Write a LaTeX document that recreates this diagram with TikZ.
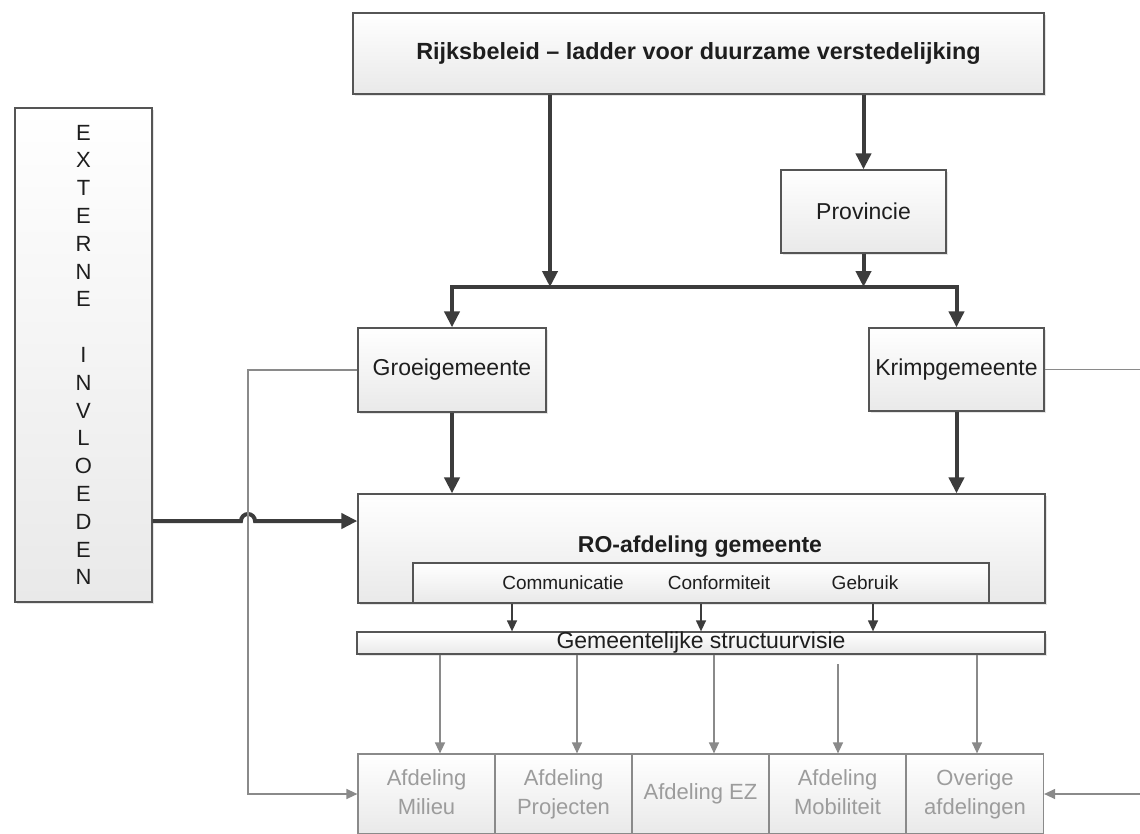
\documentclass[tikz,border=0pt]{standalone}
\usepackage{fontspec}
\setmainfont{Liberation Sans}
\usetikzlibrary{arrows.meta,shadows,calc}

\definecolor{edge}{HTML}{555555}
\definecolor{ink}{HTML}{1E1E1E}
\definecolor{arrowdark}{HTML}{3C3C3C}
\definecolor{soft}{HTML}{8A8A8A}
\definecolor{softtext}{HTML}{9C9C9C}
\definecolor{shadelow}{HTML}{E9E9E9}

\begin{document}
\begin{tikzpicture}[x=1pt,y=-1pt,
  box/.style={draw=edge, line width=1.3pt, top color=white, bottom color=shadelow,
    inner sep=0pt, text=ink, font=\fontsize{23}{27}\selectfont,
    drop shadow={shadow xshift=1.5pt, shadow yshift=-1.5pt, opacity=0.2}},
  plainbox/.style={draw=edge, line width=1.3pt, top color=white, bottom color=shadelow, inner sep=0pt},
  lowbox/.style={draw=soft, line width=1.2pt, top color=white, bottom color=shadelow,
    inner sep=0pt, text=softtext, align=center, minimum width=137, minimum height=80,
    font=\fontsize{22}{29}\selectfont},
  label/.style={inner sep=0pt, text=ink, font=\fontsize{23}{27}\selectfont},
  boldlabel/.style={inner sep=0pt, text=ink, font=\bfseries\fontsize{23}{27}\selectfont},
  smalllabel/.style={inner sep=0pt, text=ink, font=\fontsize{19}{23}\selectfont},
  bigarrow/.style={draw=arrowdark, line width=4pt, -{Triangle[length=16pt,width=15pt]}},
  thinarrow/.style={draw=arrowdark, line width=1.3pt, -{Triangle[length=11pt,width=10pt]}},
  softarrow/.style={draw=soft, line width=1.3pt, -{Triangle[length=11pt,width=10pt]}},
  softline/.style={draw=soft, line width=1.2pt}
]
\useasboundingbox (0,0) rectangle (1140,833);
\fill[white] (0,0) rectangle (1140,833);

% top level: national policy and province
\node[box, minimum width=691, minimum height=81, font=\bfseries\fontsize{23.4}{27}\selectfont]
  (rijk) at (698.5,53.5) {Rijksbeleid – ladder voor duurzame verstedelijking};
\node[box, minimum width=165, minimum height=83] (prov) at (863.5,211.5) {Provincie};

% municipalities
\node[box, minimum width=188, minimum height=84] (groei) at (452,370) {Groeigemeente};
\node[box, minimum width=175, minimum height=83] (krimp) at (956.5,369.5) {Krimpgemeente};

% external influences column
\node[box, minimum width=137, minimum height=494] (ext) at (83.5,355) {};
\node[inner sep=0pt, text=ink, align=center, font=\fontsize{22}{27.8}\selectfont] (extlabel) at (ext.center)
  {E\\X\\T\\E\\R\\N\\E\\\mbox{}\\I\\N\\V\\L\\O\\E\\D\\E\\N};

% spatial planning department
\node[box, minimum width=687, minimum height=109] (ro) at (701.5,548.5) {};
\node[boldlabel] (rolabel) at (700,547) {RO-afdeling gemeente};
\node[plainbox, minimum width=576, minimum height=40] (sub) at (701,583) {};
\node[smalllabel] (comm) at (563,583) {Communicatie};
\node[smalllabel] (conf) at (719,583) {Conformiteit};
\node[smalllabel] (gebr) at (865,583) {Gebruik};

% structure vision bar
\node[box, minimum width=688, minimum height=22] (gsv) at (701,643) {};
\node[label] (gsvlabel) at (gsv.center) {Gemeentelijke structuurvisie};

% departments row
\node[lowbox] (afd1) at (426.5,794) {\strut Afdeling\\\strut Milieu};
\node[lowbox] (afd2) at (563.5,794) {\strut Afdeling\\\strut Projecten};
\node[lowbox] (afd3) at (700.5,794) {\strut Afdeling EZ};
\node[lowbox] (afd4) at (837.5,794) {\strut Afdeling\\\strut Mobiliteit};
\node[lowbox] (afd5) at (975,794) {\strut Overige\\\strut afdelingen};

% helper coordinates
\coordinate (bus) at (0,287);
\coordinate (ra) at (550,0);
\coordinate (jy) at (0,521);
\coordinate (vline) at (248,600);
\coordinate (redge) at (1141,0);
\coordinate (k1) at (512,0);
\coordinate (k2) at (701,0);
\coordinate (k3) at (873,0);
\coordinate (c1) at (440,0);
\coordinate (c2) at (577,0);
\coordinate (c3) at (714,0);
\coordinate (c4) at (838,664);
\coordinate (c5) at (977,0);

% heavy flow
\draw[bigarrow] (rijk.south -| ra) -- (ra |- bus);
\draw[bigarrow] (rijk.south -| prov.north) -- (prov.north);
\draw[bigarrow] (prov.south) -- (prov.south |- bus);
\draw[bigarrow] (prov.south |- bus) -| (groei.north);
\draw[bigarrow] (prov.south |- bus) -| (krimp.north);
\draw[bigarrow] (groei.south) -- (groei.south |- ro.north);
\draw[bigarrow] (krimp.south) -- (krimp.south |- ro.north);
\draw[bigarrow] (ext.east |- jy) -- ($(vline |- jy)+(-7,0)$)
  arc[start angle=180, end angle=360, radius=7] -- (ro.west |- jy);

% from the three aspects to the structure vision
\draw[thinarrow] (sub.south -| k1) -- (gsv.north -| k1);
\draw[thinarrow] (sub.south -| k2) -- (gsv.north -| k2);
\draw[thinarrow] (sub.south -| k3) -- (gsv.north -| k3);

% structure vision to departments
\draw[softarrow] (gsv.south -| c1) -- (afd1.north -| c1);
\draw[softarrow] (gsv.south -| c2) -- (afd2.north -| c2);
\draw[softarrow] (gsv.south -| c3) -- (afd3.north -| c3);
\draw[softarrow] (c4) -- (afd4.north -| c4);
\draw[softarrow] (gsv.south -| c5) -- (afd5.north -| c5);

% side links
\draw[softarrow] (groei.west) -| (vline) |- (afd1.west);
\draw[softline] (krimp.east) -- (krimp.east -| redge);
\draw[softarrow] (afd5.east -| redge) -- (afd5.east);
\end{tikzpicture}
\end{document}
